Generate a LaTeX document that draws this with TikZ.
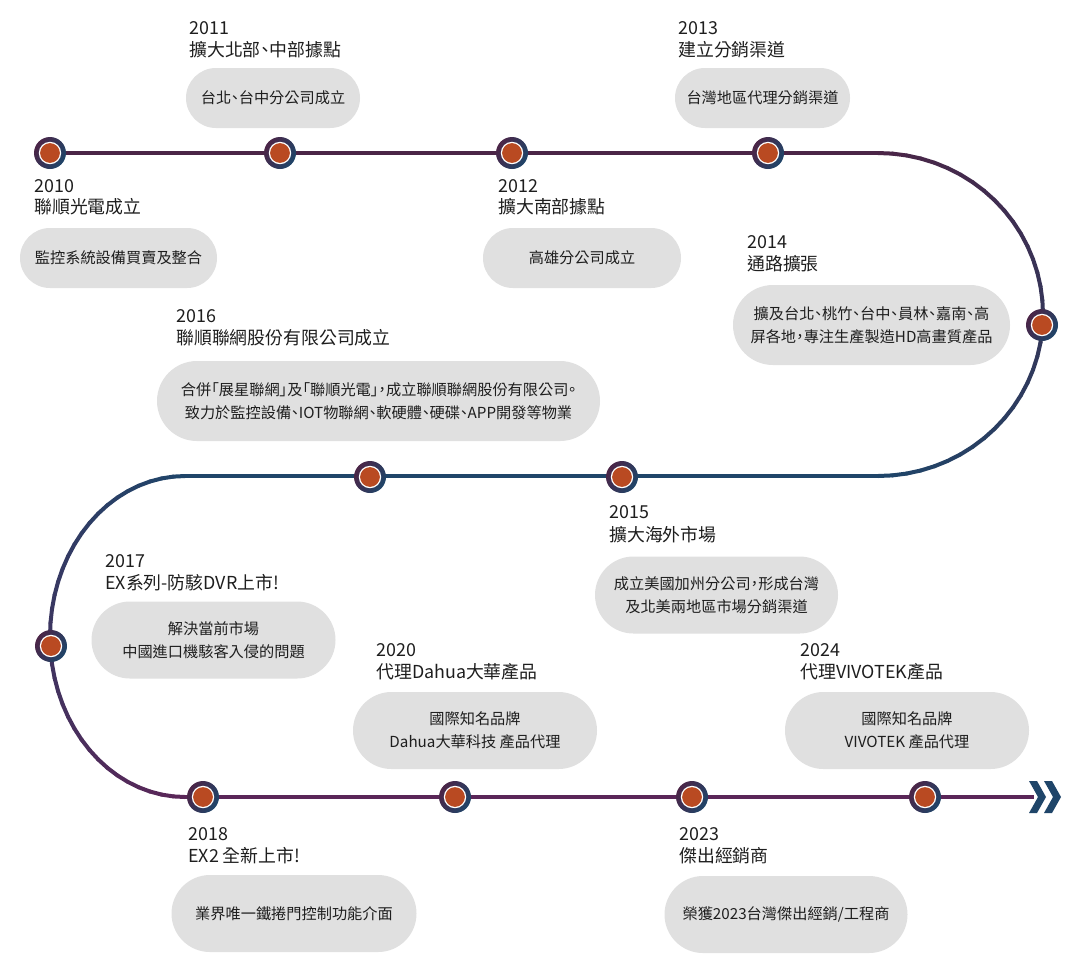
\documentclass[tikz,border=0pt]{standalone}
\usepackage{fontspec}
\setmainfont{Noto Sans CJK TC}[RawFeature=+palt]
\usetikzlibrary{shapes.misc}
\definecolor{tlpurple}{HTML}{4B2547}
\definecolor{tlbotpurple}{HTML}{5A2658}
\definecolor{tlblue}{HTML}{1F4569}
\definecolor{dotorange}{HTML}{B94A22}
\definecolor{pillgrey}{HTML}{E0E0E0}
\definecolor{txt}{HTML}{1E1E1E}
\newcommand{\tltitlefont}{\fontsize{13.4pt}{16pt}\selectfont}
\newcommand{\tlbodyfont}{\fontsize{11.4pt}{16.9pt}\selectfont}
\begin{document}
\begin{tikzpicture}[x=0.75pt,y=-0.75pt,
  track/.style={line width=3pt},
  pill/.style 2 args={rounded rectangle, fill=pillgrey, draw=none, minimum width=#1*0.75pt, minimum height=#2*0.75pt, inner sep=0pt, align=center, font=\tlbodyfont, text=txt},
  yearlbl/.style={anchor=base west, inner sep=0pt, font=\tltitlefont, text=txt},
  dotnode/.style={circle, inner sep=0pt, minimum size=24pt, left color=tlpurple, right color=tlblue, shading angle=60},
  chevron/.style={fill=tlblue, draw=none}]
\useasboundingbox[fill=white] (0,0) rectangle (1080,972);

% ---- track ----
\coordinate (tstart) at (50,153);
\coordinate (tr1) at (878,153);
\coordinate (tr2) at (878,476);
\coordinate (tl1) at (185,476);
\coordinate (tl2) at (185,797);
\coordinate (tend) at (1034,797);
\draw[track, tlpurple] (tstart) -- (tr1);
\foreach \i in {0,...,35}{
  \pgfmathsetmacro\aa{90-5*\i}
  \pgfmathsetmacro\ab{90-5*(\i+1)}
  \pgfmathsetmacro\pp{100-100*\i/35}
  \draw[track, color=tlpurple!\pp!tlblue, line cap=round]
    ({878+165*cos(\aa)},{314.5-161.5*sin(\aa)}) -- ({878+165*cos(\ab)},{314.5-161.5*sin(\ab)});
}
\draw[track, tlblue] (tr2) -- (tl1);
\foreach \i in {0,...,35}{
  \pgfmathsetmacro\aa{90+5*\i}
  \pgfmathsetmacro\ab{90+5*(\i+1)}
  \pgfmathsetmacro\pp{100-100*\i/35}
  \draw[track, color=tlblue!\pp!tlbotpurple, line cap=round]
    ({185+135*cos(\aa)},{636.5-160.5*sin(\aa)}) -- ({185+135*cos(\ab)},{636.5-160.5*sin(\ab)});
}
\draw[track, tlbotpurple] (tl2) -- (tend);
% double chevron arrow
\fill[chevron] (1029,781) -- (1037,781) -- (1046,797) -- (1037,813) -- (1029,813) -- (1038,797) -- cycle;
\fill[chevron] (1044,781) -- (1052,781) -- (1061,797) -- (1052,813) -- (1044,813) -- (1053,797) -- cycle;

% ---- dots ----
\node[dotnode] (d2010) at (50,153) {};
\node[dotnode] (d2011) at (280,153) {};
\node[dotnode] (d2012) at (512,153) {};
\node[dotnode] (d2013) at (768,153) {};
\node[dotnode] (d2014) at (1042,325) {};
\node[dotnode] (d2016) at (370,477) {};
\node[dotnode] (d2015) at (622,477) {};
\node[dotnode] (d2017) at (51,646) {};
\node[dotnode] (d2018) at (203,797) {};
\node[dotnode] (d2020) at (455,797) {};
\node[dotnode] (d2023) at (692,797) {};
\node[dotnode] (d2024) at (925,797) {};
\foreach \n in {d2010,d2011,d2012,d2013,d2014,d2016,d2015,d2017,d2018,d2020,d2023,d2024}{
  \fill[white] (\n.center) circle (8.4pt);
  \fill[dotorange] (\n.center) circle (7.4pt);
}

% ---- pills ----
\node[pill={174}{60}] (p2011) at (273,98) {台北、台中分公司成立};
\node[pill={197}{60}] (p2010) at (118.5,258) {監控系統設備買賣及整合};
\node[pill={198}{60}] (p2012) at (582,258) {高雄分公司成立};
\node[pill={175}{60}] (p2013) at (762.5,98) {台灣地區代理分銷渠道};
\node[pill={277}{80}] (p2014) at (871.5,325) {擴及台北、桃竹、台中、員林、嘉南、高\\屏各地，專注生產製造HD高畫質產品};
\node[pill={443}{80}] (p2016) at (378.5,401) {合併「展星聯網」及「聯順光電」，成立聯順聯網股份有限公司。\\致力於監控設備、IOT物聯網、軟硬體、硬碟、APP開發等物業};
\node[pill={243}{77}] (p2015) at (716.5,595) {成立美國加州分公司，形成台灣\\及北美兩地區市場分銷渠道};
\node[pill={244}{77}] (p2017) at (213.5,640) {解決當前市場\\中國進口機駭客入侵的問題};
\node[pill={244}{77}] (p2020) at (475,730.5) {國際知名品牌\\Dahua大華科技 產品代理};
\node[pill={244}{77}] (p2024) at (907,730.5) {國際知名品牌\\VIVOTEK 產品代理};
\node[pill={245}{77}] (p2018) at (294,913.5) {業界唯一鐵捲門控制功能介面};
\node[pill={243}{77}] (p2023) at (786,914.5) {榮獲2023台灣傑出經銷/工程商};

% ---- titles ----
\node[yearlbl] (y2011) at (189,34) {2011};
\node[yearlbl] (h2011) at (189,56) {擴大北部、中部據點};
\node[yearlbl] (y2010) at (34,192) {2010};
\node[yearlbl] (h2010) at (34,213) {聯順光電成立};
\node[yearlbl] (y2012) at (498,192) {2012};
\node[yearlbl] (h2012) at (498,213) {擴大南部據點};
\node[yearlbl] (y2013) at (678,34) {2013};
\node[yearlbl] (h2013) at (678,56) {建立分銷渠道};
\node[yearlbl] (y2014) at (747,248) {2014};
\node[yearlbl] (h2014) at (747,270) {通路擴張};
\node[yearlbl] (y2016) at (176,322) {2016};
\node[yearlbl] (h2016) at (176,344) {聯順聯網股份有限公司成立};
\node[yearlbl] (y2015) at (609,518.5) {2015};
\node[yearlbl] (h2015) at (609,541) {擴大海外市場};
\node[yearlbl] (y2017) at (105,567) {2017};
\node[yearlbl] (h2017) at (105,589) {EX系列-防駭DVR上市!};
\node[yearlbl] (y2020) at (376,656) {2020};
\node[yearlbl] (h2020) at (376,678) {代理Dahua大華產品};
\node[yearlbl] (y2024) at (800,656) {2024};
\node[yearlbl] (h2024) at (800,678) {代理VIVOTEK產品};
\node[yearlbl] (y2018) at (188,840) {2018};
\node[yearlbl] (h2018) at (188,862) {EX2 全新上市!};
\node[yearlbl] (y2023) at (679,840) {2023};
\node[yearlbl] (h2023) at (679,862) {傑出經銷商};
\end{tikzpicture}
\end{document}
